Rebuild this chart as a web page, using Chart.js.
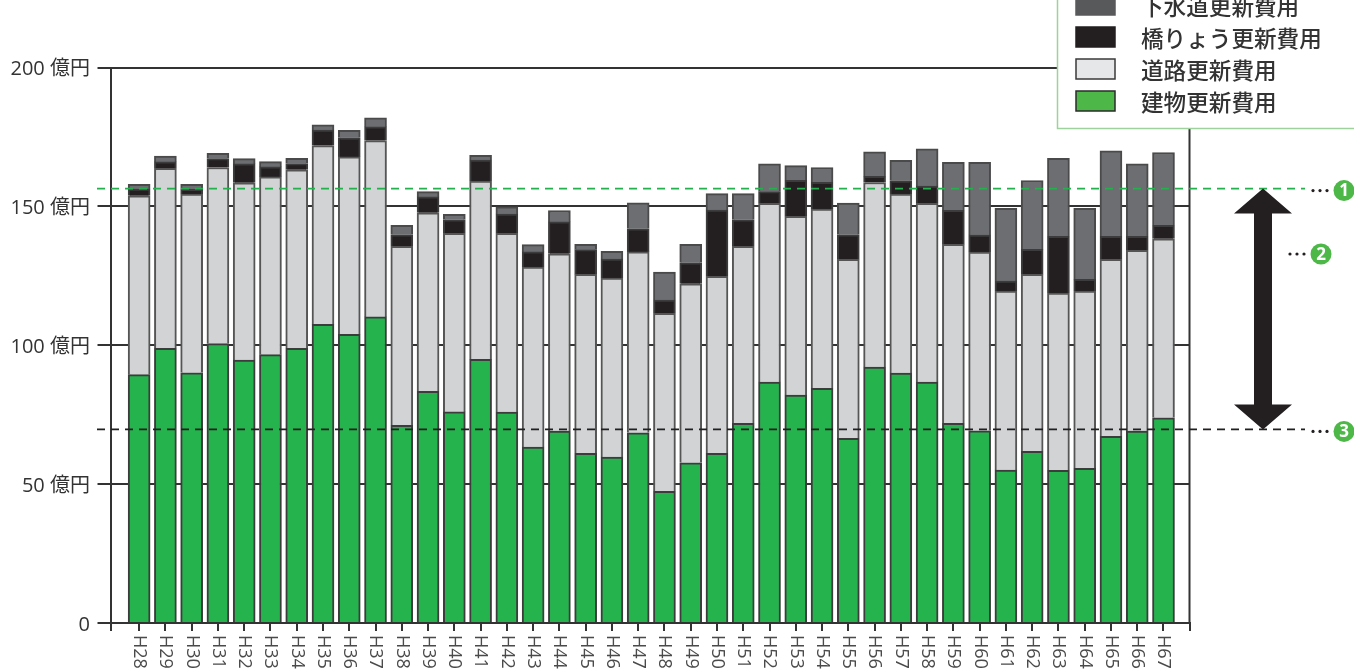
<!DOCTYPE html>
<html lang="ja">
<head>
<meta charset="utf-8">
<title>更新費用の推移</title>
<script src="https://cdn.jsdelivr.net/npm/chart.js@4"></script>
<style>
	html, body { margin: 0; padding: 0; background: #fff; overflow: hidden; }
	canvas { display: block; }
</style>
</head>
<body>
<canvas id="costChart" width="1354" height="671"></canvas>
<script>
const years = ['H28','H29','H30','H31','H32','H33','H34','H35','H36','H37','H38','H39','H40','H41','H42','H43','H44','H45','H46','H47','H48','H49','H50','H51','H52','H53','H54','H55','H56','H57','H58','H59','H60','H61','H62','H63','H64','H65','H66','H67'];

// 単位: 億円
const buildingCost = [89.4,98.9,90.1,100.6,94.7,96.6,98.9,107.5,103.9,110.2,71.2,83.4,76.0,94.9,75.9,63.3,69.1,61.1,59.7,68.5,47.4,57.7,61.1,71.9,86.7,82.1,84.5,66.5,92.1,90.0,86.7,71.9,69.2,55.1,61.8,55.0,55.7,67.2,69.1,73.9];
const roadCost = [64.4,64.8,64.3,63.4,63.8,64.0,64.3,64.4,63.9,63.5,64.4,64.3,64.3,64.2,64.4,64.8,63.8,64.4,64.5,65.1,64.1,64.4,63.7,63.7,64.4,64.3,64.5,64.4,66.5,64.4,64.4,64.4,64.3,64.4,63.7,63.8,63.8,63.7,65.1,64.4];
const bridgeCost = [2.4,2.3,1.7,3.2,6.8,3.6,2.2,5.6,7.0,4.9,4.2,5.7,4.9,7.6,6.9,5.5,11.5,8.9,6.8,8.3,4.8,7.6,23.9,9.6,4.2,13.0,9.7,8.9,2.2,4.9,6.2,12.3,6.2,3.6,9.0,20.4,4.2,8.3,5.0,4.9];
const sewerCost = [1.7,2.1,1.8,1.9,1.9,1.9,1.9,1.9,2.6,3.3,3.4,1.9,1.9,1.7,2.6,2.6,4.1,1.9,2.8,9.4,10.0,6.6,5.9,9.4,10.0,5.3,5.3,11.4,8.8,7.3,13.4,17.3,26.2,26.2,24.8,28.1,25.6,30.8,26.1,26.2];

const avgLine = 156.4;    // ① 平均
const targetLine = 69.7;  // ③ 建物のみ

const toPoints = arr => arr.map((v, i) => ({ x: i, y: v }));

// x軸の左右の余白は目盛の単位(1年分)で持つ
const xMin = -1.09;
const xMax = 39.99;

const inkColor = '#333';
const latinCjk = '"Open Sans","Noto Sans CJK JP"';

// 凡例は元の図と同じ並び(上から)
const legendRows = [
	{ label: '下水道更新費用', fill: '#58595b', line: '#58595b' },
	{ label: '橋りょう更新費用', fill: '#231f20', line: '#231f20' },
	{ label: '道路更新費用', fill: '#e6e7e8', line: '#3a3a3a' },
	{ label: '建物更新費用', fill: '#4db848', line: '#2b2b2b' }
];

function badge(ctx, x, y, num) {
	ctx.fillStyle = '#4db848';
	ctx.beginPath();
	ctx.arc(x, y, 10.5, 0, Math.PI * 2);
	ctx.fill();
	ctx.fillStyle = '#fff';
	ctx.font = 'bold 17px "Open Sans"';
	ctx.textAlign = 'center';
	ctx.textBaseline = 'middle';
	ctx.fillText(num, x, y + 1);
	// 番号の前の点線
	ctx.fillStyle = '#231f20';
	[-31, -24, -17].forEach(dx => {
		ctx.beginPath();
		ctx.arc(x + dx, y, 1.6, 0, Math.PI * 2);
		ctx.fill();
	});
}

const decorations = {
	id: 'decorations',
	afterDatasetsDraw(chart) {
		const ctx = chart.ctx;
		const { left, right, top, bottom } = chart.chartArea;
		const yScale = chart.scales.y;
		const xScale = chart.scales.x;
		const yAvg = yScale.getPixelForValue(avgLine);
		const yTarget = yScale.getPixelForValue(targetLine);

		ctx.save();

		// 右の枠線
		ctx.strokeStyle = inkColor;
		ctx.lineWidth = 2;
		ctx.beginPath();
		ctx.moveTo(right, top);
		ctx.lineTo(right, bottom);
		ctx.stroke();

		// 破線
		ctx.lineWidth = 1.8;
		ctx.setLineDash([8, 6]);
		ctx.strokeStyle = '#22b14c';
		ctx.beginPath();
		ctx.moveTo(97, yAvg);
		ctx.lineTo(1305, yAvg);
		ctx.stroke();
		ctx.strokeStyle = '#231f20';
		ctx.beginPath();
		ctx.moveTo(97, yTarget);
		ctx.lineTo(1305, yTarget);
		ctx.stroke();
		ctx.setLineDash([]);

		// 両矢印
		const ax = 1263;
		ctx.fillStyle = '#231f20';
		ctx.beginPath();
		ctx.moveTo(ax, yAvg);
		ctx.lineTo(ax + 29, yAvg + 25);
		ctx.lineTo(ax + 9, yAvg + 25);
		ctx.lineTo(ax + 9, yTarget - 25);
		ctx.lineTo(ax + 29, yTarget - 25);
		ctx.lineTo(ax, yTarget);
		ctx.lineTo(ax - 29, yTarget - 25);
		ctx.lineTo(ax - 9, yTarget - 25);
		ctx.lineTo(ax - 9, yAvg + 25);
		ctx.lineTo(ax - 29, yAvg + 25);
		ctx.closePath();
		ctx.fill();

		badge(ctx, 1344, yAvg + 2, '1');
		badge(ctx, 1321, 254, '2');
		badge(ctx, 1344, yTarget + 2, '3');

		// 縦軸ラベル(少し下げたいのでここで書く)
		ctx.fillStyle = '#333';
		ctx.font = '20px ' + latinCjk;
		ctx.textAlign = 'right';
		ctx.textBaseline = 'middle';
		yScale.ticks.forEach(t => {
			ctx.fillText(t.value === 0 ? '0' : t.value + ' 億円', 90, yScale.getPixelForValue(t.value) + 2);
		});

		// 年度ラベル(上から下へ読む縦書き)
		ctx.fillStyle = '#4a4a4a';
		ctx.font = '18px "Open Sans"';
		ctx.textAlign = 'left';
		years.forEach((label, i) => {
			ctx.save();
			ctx.translate(xScale.getPixelForValue(i), bottom + 12);
			ctx.rotate(Math.PI / 2);
			ctx.fillText(label, 0, 0);
			ctx.restore();
		});

		// 凡例
		ctx.fillStyle = '#fff';
		ctx.strokeStyle = '#9dd29c';
		ctx.lineWidth = 1.5;
		ctx.fillRect(1057.5, -5, 300, 133.5);
		ctx.strokeRect(1057.5, -5, 300, 133.5);
		ctx.font = '500 22.6px "Noto Sans CJK JP"';
		legendRows.forEach((row, i) => {
			const y = 5 + i * 32;
			ctx.fillStyle = row.fill;
			ctx.fillRect(1076, y - 10, 39, 20);
			ctx.strokeStyle = row.line;
			ctx.lineWidth = 1.5;
			ctx.strokeRect(1076, y - 10, 39, 20);
			ctx.fillStyle = '#333';
			ctx.textAlign = 'left';
			ctx.textBaseline = 'middle';
			ctx.fillText(row.label, 1141, y + 1);
		});

		ctx.restore();
	}
};

const makeSet = (label, values, color, edge) => ({
	label: label,
	data: toPoints(values),
	backgroundColor: color,
	borderColor: edge,
	borderWidth: 2,
	barThickness: 22
});

new Chart(document.getElementById('costChart'), {
	type: 'bar',
	data: {
		datasets: [
			makeSet('建物更新費用', buildingCost, '#25b34e', '#3c3c3c'),
			makeSet('道路更新費用', roadCost, '#d1d3d4', '#555'),
			makeSet('橋りょう更新費用', bridgeCost, '#231f20', '#3c3c3c'),
			makeSet('下水道更新費用', sewerCost, '#6d6e71', '#4a4a4a')
		]
	},
	options: {
		responsive: false,
		animation: false,
		layout: { padding: { top: 67.5, right: 164.5, left: 0, bottom: 0 } },
		plugins: {
			legend: { display: false },
			tooltip: { enabled: false }
		},
		scales: {
			x: {
				type: 'linear',
				stacked: true,
				offset: false,
				min: xMin,
				max: xMax,
				afterBuildTicks(scale) {
					// 両端にも短い目盛を出す
					scale.ticks = [{ value: xMin }].concat(years.map((y, i) => ({ value: i })), [{ value: xMax }]);
				},
				afterFit(scale) { scale.height = 48; },
				ticks: { display: false },
				border: { color: inkColor, width: 2 },
				grid: { offset: false, drawOnChartArea: false, color: inkColor, lineWidth: 2, tickLength: 8 }
			},
			y: {
				stacked: true,
				min: 0,
				max: 200,
				afterFit(scale) { scale.width = 110.5; },
				ticks: { stepSize: 50, display: false },
				border: { color: inkColor, width: 2 },
				grid: { color: inkColor, lineWidth: 2, tickLength: 13 }
			}
		}
	},
	plugins: [decorations]
});
</script>
</body>
</html>
